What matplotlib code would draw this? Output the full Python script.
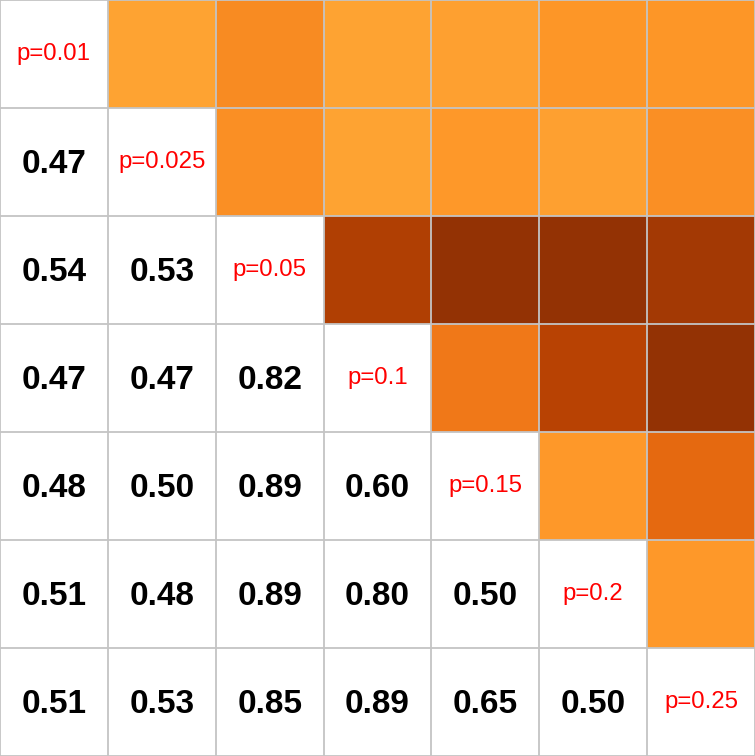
import numpy as np
import matplotlib
matplotlib.use("Agg")
import matplotlib.pyplot as plt

labels = ["p=0.01", "p=0.025", "p=0.05", "p=0.1", "p=0.15", "p=0.2", "p=0.25"]
# lower-triangle values, row by row (row i has i values)
row1 = [0.47]
row2 = [0.54, 0.53]
row3 = [0.47, 0.47, 0.82]
row4 = [0.48, 0.50, 0.89, 0.60]
row5 = [0.51, 0.48, 0.89, 0.80, 0.50]
row6 = [0.51, 0.53, 0.85, 0.89, 0.65, 0.50]
rows = [[], row1, row2, row3, row4, row5, row6]

n = len(labels)
M = np.full((n, n), np.nan)
for i, r in enumerate(rows):
    for j, v in enumerate(r):
        M[i, j] = v
        M[j, i] = v

upper = np.ma.masked_where(~np.triu(np.ones((n, n), bool), k=1), M)

fig = plt.figure(figsize=(7.55, 7.56), dpi=100)
ax = fig.add_axes([0, 0, 1, 1])
ax.set_facecolor("white")
ax.pcolormesh(np.arange(n + 1), np.arange(n + 1), upper, cmap="YlOrBr",
              vmin=0.0, vmax=1.0, edgecolors="none")
ax.set_xlim(0, n)
ax.set_ylim(n, 0)
for k in range(n + 1):
    ax.axhline(k, color="#c4c4c4", lw=1.3, zorder=3)
    ax.axvline(k, color="#c4c4c4", lw=1.3, zorder=3)

for i in range(n):
    ax.text(i + 0.5, i + 0.5, labels[i], ha="center", va="center",
            color="red", fontsize=17.3, family="Liberation Sans")
    for j in range(i):
        ax.text(j + 0.5, i + 0.52, f"{M[i, j]:.2f}", ha="center", va="center",
                color="black", fontsize=24, fontweight="bold",
                family="Liberation Sans")

ax.set_xticks([])
ax.set_yticks([])
for s in ax.spines.values():
    s.set_visible(False)

fig.savefig("out.png", dpi=100)
